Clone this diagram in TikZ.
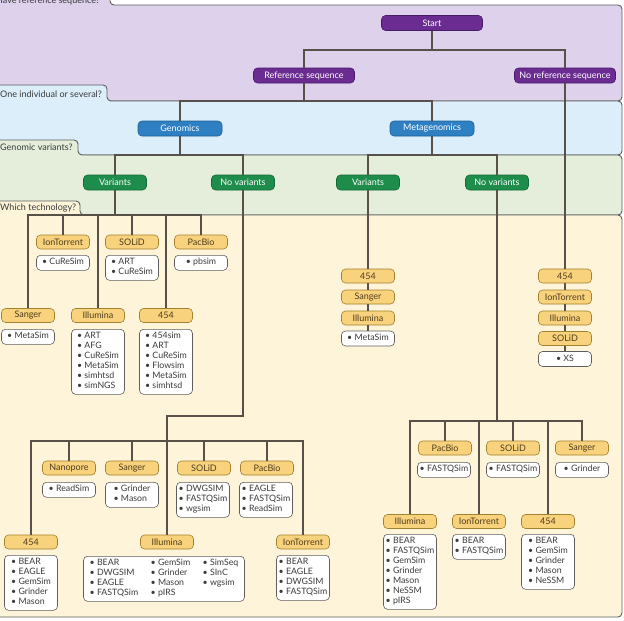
\documentclass[tikz,border=0pt]{standalone}
\usepackage{fontspec}
\setmainfont{Lato}
\usetikzlibrary{calc}
\definecolor{bandP}{HTML}{DDD1EC}
\definecolor{bandB}{HTML}{DCEEFA}
\definecolor{bandG}{HTML}{E4EEDA}
\definecolor{bandY}{HTML}{FEF4DA}
\definecolor{outl}{HTML}{5E5E5E}
\definecolor{conn}{HTML}{57514A}
\definecolor{nP}{HTML}{6B2C92}
\definecolor{nPd}{HTML}{4A1A6A}
\definecolor{nB}{HTML}{2F80C2}
\definecolor{nBd}{HTML}{1D5E94}
\definecolor{nG}{HTML}{1E8C4B}
\definecolor{nGd}{HTML}{136B37}
\definecolor{nY}{HTML}{F8D27C}
\definecolor{nYd}{HTML}{A3822F}
\definecolor{txtY}{HTML}{4E3D1E}
\definecolor{txtL}{HTML}{3C3C3C}
\definecolor{lbl}{HTML}{3A3A3A}
\newcommand\toollist[1]{\begin{tabular}{@{}l@{}}#1\end{tabular}}
\begin{document}
\begin{tikzpicture}[x=1pt,y=-1pt,
  box/.style={rounded corners=4pt, inner sep=0pt, minimum height=15pt, font=\fontsize{9}{10}\selectfont, line width=0.6pt},
  dec/.style={box, minimum width=101pt, fill=nP, draw=nPd, text=white},
  blu/.style={box, minimum width=84pt, fill=nB, draw=nBd, text=white},
  grn/.style={box, minimum width=63pt, fill=nG, draw=nGd, text=white},
  tech/.style={box, minimum width=53pt, minimum height=14pt, fill=nY, draw=nYd, text=txtY},
  lst/.style={rounded corners=4pt, fill=white, draw=outl, line width=0.6pt, minimum width=53pt, inner xsep=2pt, inner ysep=2.5pt, anchor=north, text=txtL, font=\fontsize{8.8}{10}\selectfont},
  wire/.style={draw=conn, line width=1.4pt},
  bandshape/.style={rounded corners=4pt, draw=outl, line width=0.9pt},
  qlabel/.style={anchor=base west, inner sep=0pt, text=lbl, font=\fontsize{9}{10}\selectfont}
]
\useasboundingbox (0,0) rectangle (624,621);
\clip (0,0) rectangle (624,621);
\fill[white] (0,0) rectangle (624,621);
% bands
\path[bandshape, fill=bandP] (-5,-10) -- (110,-10) -- (110,5) -- (622,5) -- (622,101) -- (-5,101) -- cycle;
\path[bandshape, fill=bandB] (-5,85) -- (107,85) -- (107,101) -- (622,101) -- (622,155) -- (-5,155) -- cycle;
\path[bandshape, fill=bandG] (-5,140) -- (78,140) -- (78,155) -- (622,155) -- (622,215) -- (-5,215) -- cycle;
\path[bandshape, fill=bandY] (-5,201) -- (80,201) -- (80,215) -- (622,215) -- (622,617) -- (-5,617) -- cycle;
\node[qlabel] (q1) at (-4,3) {Have reference sequence?};
\node[qlabel] (q2) at (0,97.5) {One individual or several?};
\node[qlabel] (q3) at (0,150) {Genomic variants?};
\node[qlabel] (q4) at (0,210) {Which technology?};
% decision nodes
\node[dec] (start) at (432,23) {Start};
\node[dec] (ref) at (304,75.5) {Reference sequence};
\node[dec] (noref) at (565,75.5) {No reference sequence};
\node[blu] (gen) at (180,128.5) {Genomics};
\node[blu] (meta) at (432,128.5) {Metagenomics};
\node[grn] (gv) at (115,182.5) {Variants};
\node[grn] (gnv) at (243,182.5) {No variants};
\node[grn] (mv) at (368,182.5) {Variants};
\node[grn] (mnv) at (497,182.5) {No variants};
% genomic variants
\node[tech] (gvIon) at (63,242) {IonTorrent};
\node[tech] (gvSol) at (132,242) {SOLiD};
\node[tech] (gvPac) at (201,242) {PacBio};
\node[tech] (gvSan) at (28,315.5) {Sanger};
\node[tech] (gvIll) at (98,315.5) {Illumina};
\node[tech] (gv454) at (166,315.5) {454};
\node[lst] (gvIonL) at (63,255) {\toollist{• CuReSim}};
\node[lst] (gvSolL) at (132,255) {\toollist{• ART\\• CuReSim}};
\node[lst] (gvPacL) at (201,255) {\toollist{• pbsim}};
\node[lst] (gvSanL) at (28,329) {\toollist{• MetaSim}};
\node[lst] (gvIllL) at (98,329) {\toollist{• ART\\• AFG\\• CuReSim\\• MetaSim\\• simhtsd\\• simNGS}};
\node[lst] (gv454L) at (166,329) {\toollist{• 454sim\\• ART\\• CuReSim\\• Flowsim\\• MetaSim\\• simhtsd}};
% genomic no variants
\node[tech] (nNan) at (69,468) {Nanopore};
\node[tech] (nSan) at (132,468) {Sanger};
\node[tech] (nSol) at (204,468) {SOLiD};
\node[tech] (nPac) at (267,468) {PacBio};
\node[tech] (n454) at (31,542) {454};
\node[tech] (nIll) at (167,542) {Illumina};
\node[tech] (nIon) at (303,542) {IonTorrent};
\node[lst] (nNanL) at (69,482) {\toollist{• ReadSim}};
\node[lst] (nSanL) at (132,482) {\toollist{• Grinder\\• Mason}};
\node[lst] (nSolL) at (203,482) {\toollist{• DWGSIM\\• FASTQSim\\• wgsim}};
\node[lst] (nPacL) at (266,482) {\toollist{• EAGLE\\• FASTQSim\\• ReadSim}};
\node[lst] (n454L) at (31,555) {\toollist{• BEAR\\• EAGLE\\• GemSim\\• Grinder\\• Mason}};
\node[lst, minimum width=161pt] (nIllL) at (164,556) {\begin{tabular}{@{}p{61pt}@{}p{52pt}@{}l@{}}• BEAR & • GemSim & • SimSeq\\ • DWGSIM & • Grinder & • SInC\\ • EAGLE & • Mason & • wgsim\\ • FASTQSim & • pIRS & \end{tabular}};
\node[lst] (nIonL) at (303,555) {\toollist{• BEAR\\• EAGLE\\• DWGSIM\\• FASTQSim}};
% metagenomic variants
\node[tech] (mv454) at (368,276) {454};
\node[tech] (mvSan) at (368,297) {Sanger};
\node[tech] (mvIll) at (368,318) {Illumina};
\node[lst, anchor=center] (mvL) at (368,338.5) {\toollist{• MetaSim}};
% no reference
\node[tech] (r454) at (565,276) {454};
\node[tech] (rIon) at (565,297) {IonTorrent};
\node[tech] (rIll) at (565,318) {Illumina};
\node[tech] (rSol) at (565,338.5) {SOLiD};
\node[lst, anchor=center] (rXS) at (565,359) {\toollist{• XS}};
% metagenomic no variants
\node[tech] (mPac) at (445,448) {PacBio};
\node[tech] (mSol) at (513,448) {SOLiD};
\node[tech] (mSan) at (582,448) {Sanger};
\node[lst] (mPacL) at (444,462) {\toollist{• FASTQSim}};
\node[lst] (mSolL) at (513,462) {\toollist{• FASTQSim}};
\node[lst] (mSanL) at (582,462) {\toollist{• Grinder}};
\node[tech] (mIll) at (410,521.5) {Illumina};
\node[tech] (mIon) at (479,521.5) {IonTorrent};
\node[tech] (m454) at (548,521.5) {454};
\node[lst] (mIllL) at (410,534) {\toollist{• BEAR\\• FASTQSim\\• GemSim\\• Grinder\\• Mason\\• NeSSM\\• pIRS}};
\node[lst] (mIonL) at (479,534) {\toollist{• BEAR\\• FASTQSim}};
\node[lst] (m454L) at (548,534) {\toollist{• BEAR\\• GemSim\\• Grinder\\• Mason\\• NeSSM}};
% connectors
\coordinate (b1) at (432,50);
\draw[wire] (start) -- (b1);
\draw[wire] (ref) |- (b1) -| (noref);
\coordinate (b2) at (304,101);
\draw[wire] (ref) -- (b2);
\draw[wire] (gen) |- (b2) -| (meta);
\coordinate (b3) at (180,155);
\draw[wire] (gen) -- (b3);
\draw[wire] (gv) |- (b3) -| (gnv);
\coordinate (b4) at (432,155);
\draw[wire] (meta) -- (b4);
\draw[wire] (mv) |- (b4) -| (mnv);
\coordinate (b5) at (115,215);
\draw[wire] (gv) -- (b5);
\draw[wire] (gvSan) |- (b5) -| (gvPac);
\foreach \n in {gvIon,gvIll,gvSol,gv454} \draw[wire] (\n) -- (\n |- b5);
\coordinate (c1) at (243,416);
\coordinate (c2) at (167,416);
\coordinate (b6) at (167,441);
\draw[wire] (gnv) -- (c1) -- (c2) -- (nIll);
\draw[wire] (n454) |- (b6) -| (nIon);
\foreach \n in {nNan,nSan,nSol,nPac} \draw[wire] (\n) -- (\n |- b6);
\draw[wire] (mv) -- (mv454);
\draw[wire] (mv454) -- (mvSan);
\draw[wire] (mvSan) -- (mvIll);
\draw[wire] (mvIll) -- (mvL);
\draw[wire] (noref) -- (r454);
\draw[wire] (r454) -- (rIon);
\draw[wire] (rIon) -- (rIll);
\draw[wire] (rIll) -- (rSol);
\draw[wire] (rSol) -- (rXS);
\coordinate (b7) at (497,421);
\draw[wire] (mnv) -- (b7);
\draw[wire] (mIll) |- (b7) -| (mSan);
\foreach \n in {mPac,mIon,mSol,m454} \draw[wire] (\n) -- (\n |- b7);
\end{tikzpicture}
\end{document}
